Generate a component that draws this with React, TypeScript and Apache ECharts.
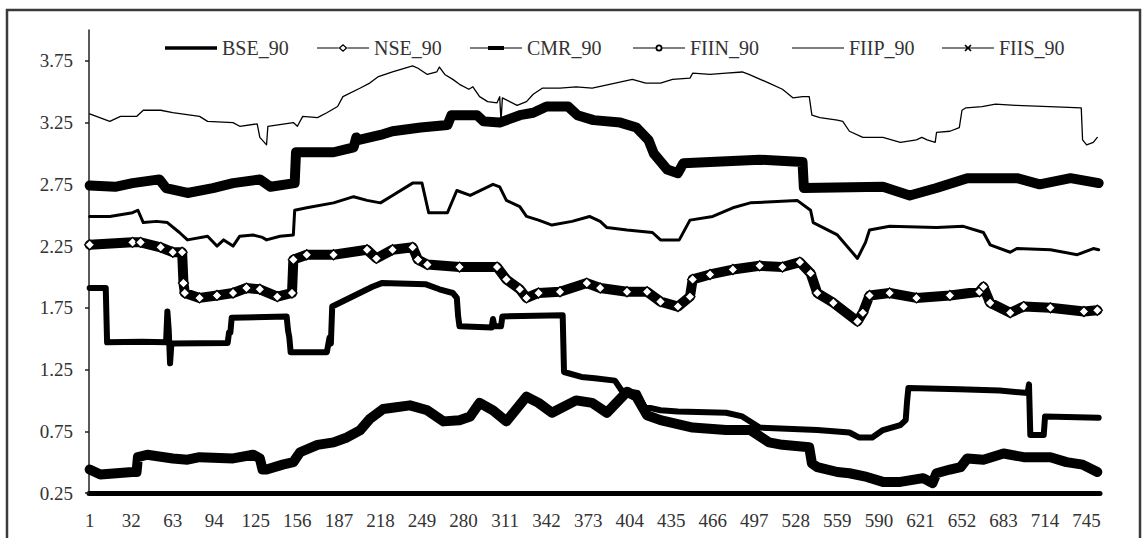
import React, { useEffect, useRef } from "react";
import * as echarts from "echarts";

const X_TICKS = [1, 32, 63, 94, 125, 156, 187, 218, 249, 280, 311, 342, 373, 404, 435, 466, 497, 528, 559, 590, 621, 652, 683, 714, 745];
const Y_TICKS = [0.25, 0.75, 1.25, 1.75, 2.25, 2.75, 3.25, 3.75];

const BSE_90: [number, number][] = [
  [1, 2.49], [16, 2.49], [33, 2.52], [37, 2.54], [41, 2.44], [51, 2.45], [59, 2.44], [68, 2.36], [74, 2.3], [89, 2.33],
  [96, 2.25], [101, 2.3], [108, 2.25], [113, 2.33], [123, 2.34], [130, 2.32], [133, 2.3], [143, 2.33], [153, 2.34], [154, 2.54],
  [163, 2.56], [183, 2.6], [198, 2.65], [208, 2.62], [218, 2.6], [227, 2.66], [242, 2.76], [249, 2.76], [254, 2.52], [268, 2.52],
  [275, 2.7], [285, 2.66], [302, 2.75], [307, 2.73], [312, 2.62], [322, 2.57], [327, 2.49], [336, 2.46], [346, 2.42], [361, 2.45],
  [374, 2.49], [382, 2.45], [387, 2.4], [402, 2.38], [421, 2.36], [427, 2.3], [441, 2.3], [449, 2.46], [466, 2.49], [481, 2.56],
  [494, 2.6], [529, 2.62], [539, 2.54], [541, 2.44], [559, 2.34], [574, 2.15], [580, 2.28], [583, 2.38], [598, 2.41], [633, 2.4],
  [653, 2.41], [668, 2.36], [673, 2.26], [688, 2.2], [693, 2.23], [718, 2.22], [738, 2.18], [750, 2.23], [754, 2.22],
];

const NSE_90: [number, number][] = [
  [1, 2.26], [33, 2.28], [39, 2.28], [54, 2.24], [63, 2.2], [70, 2.2], [71, 1.95], [72, 1.87], [83, 1.83], [96, 1.85],
  [108, 1.87], [118, 1.91], [128, 1.9], [141, 1.84], [152, 1.87], [153, 2.14], [163, 2.18], [183, 2.18], [208, 2.22], [215, 2.15],
  [227, 2.22], [242, 2.24], [246, 2.14], [253, 2.1], [277, 2.08], [305, 2.08], [312, 1.98], [322, 1.9], [327, 1.83], [336, 1.87],
  [352, 1.88], [372, 1.95], [382, 1.91], [402, 1.88], [417, 1.88], [427, 1.8], [440, 1.76], [449, 1.84], [451, 1.98], [464, 2.02],
  [481, 2.06], [501, 2.09], [518, 2.08], [531, 2.12], [539, 2.03], [544, 1.87], [556, 1.79], [574, 1.64], [578, 1.71], [583, 1.85],
  [598, 1.87], [618, 1.83], [643, 1.85], [665, 1.88], [668, 1.92], [673, 1.79], [688, 1.71], [698, 1.76], [718, 1.75], [743, 1.72],
  [753, 1.73],
];

const CMR_90: [number, number][] = [
  [1, 1.91], [13, 1.91], [14, 1.47], [40, 1.475], [58, 1.47], [59, 1.72], [60, 1.57], [61, 1.3], [62, 1.46], [104, 1.465],
  [105, 1.55], [106, 1.55], [107, 1.67], [148, 1.68], [149, 1.57], [150, 1.51], [151, 1.39], [178, 1.39], [180, 1.51], [181, 1.46],
  [182, 1.76], [212, 1.92], [219, 1.95], [252, 1.94], [262, 1.9], [272, 1.87], [275, 1.83], [276, 1.68], [277, 1.6], [301, 1.59],
  [302, 1.66], [303, 1.6], [308, 1.6], [309, 1.68], [354, 1.69], [355, 1.23], [368, 1.19], [378, 1.18], [393, 1.16], [398, 1.08],
  [410, 1.06], [415, 0.95], [427, 0.92], [440, 0.91], [476, 0.9], [488, 0.87], [501, 0.78], [544, 0.76], [568, 0.74], [575, 0.7],
  [585, 0.7], [593, 0.76], [606, 0.8], [610, 0.84], [611, 0.99], [612, 1.1], [650, 1.09], [680, 1.08], [701, 1.06], [702, 1.13],
  [703, 0.72], [713, 0.72], [714, 0.87], [754, 0.86],
];

const FIIN_90: [number, number][] = [
  [1, 0.44], [9, 0.4], [33, 0.42], [36, 0.42], [37, 0.54], [44, 0.56], [63, 0.53], [74, 0.52], [83, 0.54], [108, 0.53],
  [123, 0.56], [128, 0.53], [130, 0.44], [133, 0.44], [145, 0.48], [153, 0.5], [158, 0.58], [171, 0.64], [183, 0.66], [193, 0.7],
  [203, 0.76], [210, 0.85], [220, 0.93], [227, 0.94], [240, 0.96], [253, 0.92], [265, 0.83], [277, 0.84], [285, 0.87], [292, 0.98],
  [302, 0.92], [312, 0.83], [327, 1.03], [336, 0.98], [346, 0.9], [364, 1.0], [376, 0.98], [387, 0.9], [402, 1.07], [409, 1.03],
  [417, 0.88], [427, 0.84], [451, 0.78], [476, 0.76], [494, 0.76], [508, 0.66], [518, 0.64], [538, 0.62], [540, 0.49], [544, 0.46],
  [559, 0.42], [568, 0.41], [581, 0.38], [593, 0.34], [606, 0.34], [623, 0.37], [630, 0.33], [633, 0.41], [643, 0.44], [651, 0.46],
  [656, 0.53], [668, 0.52], [683, 0.57], [698, 0.54], [718, 0.54], [730, 0.5], [742, 0.48], [753, 0.42],
];

const FIIP_90: [number, number][] = [
  [1, 3.32], [16, 3.26], [24, 3.3], [36, 3.3], [41, 3.35], [54, 3.35], [63, 3.33], [83, 3.3], [89, 3.26], [108, 3.25],
  [113, 3.22], [126, 3.24], [128, 3.13], [133, 3.07], [134, 3.22], [153, 3.25], [156, 3.22], [160, 3.3], [171, 3.29], [178, 3.33],
  [186, 3.38], [190, 3.46], [203, 3.53], [210, 3.57], [216, 3.62], [227, 3.66], [242, 3.71], [246, 3.69], [253, 3.64], [260, 3.66],
  [262, 3.7], [266, 3.64], [272, 3.6], [277, 3.56], [284, 3.52], [287, 3.54], [292, 3.46], [298, 3.42], [305, 3.41], [307, 3.46],
  [308, 3.26], [309, 3.45], [320, 3.39], [327, 3.42], [332, 3.48], [339, 3.53], [352, 3.53], [364, 3.54], [376, 3.53], [389, 3.56],
  [406, 3.6], [416, 3.57], [427, 3.57], [436, 3.6], [449, 3.61], [451, 3.65], [464, 3.64], [476, 3.65], [488, 3.66], [493, 3.64],
  [508, 3.57], [518, 3.52], [526, 3.45], [533, 3.46], [538, 3.46], [540, 3.31], [546, 3.29], [559, 3.27], [563, 3.26], [568, 3.18],
  [578, 3.13], [593, 3.13], [606, 3.09], [618, 3.11], [622, 3.13], [626, 3.11], [632, 3.09], [633, 3.17], [643, 3.18], [650, 3.21],
  [652, 3.35], [655, 3.37], [667, 3.38], [677, 3.4], [692, 3.39], [717, 3.38], [741, 3.37], [742, 3.11], [745, 3.07], [750, 3.09],
  [753, 3.13],
];

const FIIS_90: [number, number][] = [
  [1, 2.74], [20, 2.73], [33, 2.76], [53, 2.79], [58, 2.72], [74, 2.68], [93, 2.72], [108, 2.76], [128, 2.79], [136, 2.73],
  [154, 2.76], [155, 3.01], [183, 3.01], [198, 3.05], [200, 3.13], [202, 3.11], [218, 3.15], [227, 3.18], [248, 3.21], [268, 3.23],
  [271, 3.31], [290, 3.31], [295, 3.26], [307, 3.25], [322, 3.31], [332, 3.33], [342, 3.38], [358, 3.38], [365, 3.31], [377, 3.27],
  [397, 3.25], [409, 3.21], [418, 3.11], [422, 3.0], [432, 2.87], [440, 2.84], [444, 2.92], [464, 2.93], [501, 2.95], [533, 2.93],
  [534, 2.72], [593, 2.73], [613, 2.66], [633, 2.72], [656, 2.8], [693, 2.8], [710, 2.75], [733, 2.8], [754, 2.76],
];

const SERIES_NAMES = ["BSE_90", "NSE_90", "CMR_90", "FIIN_90", "FIIP_90", "FIIS_90"];

const FONT = "'Liberation Serif', 'Times New Roman', serif";

const ICONS: Record<string, string> = {
  BSE_90: "path://M0,0H52V3.5H0Z",
  NSE_90:
    "path://M0,3.4H21.5V4.6H0Z M30.5,3.4H52V4.6H30.5Z M26,0L30.5,4L26,8L21.5,4Z M26,1.7L23.4,4L26,6.3L28.6,4Z",
  CMR_90: "path://M0,1.4H52V2.6H0Z M18,0H34V4H18Z",
  FIIN_90:
    "path://M0,2.9H22.5V4.1H0Z M29.5,2.9H52V4.1H29.5Z M22.5,3.5A3.5,3.5 0 1,0 29.5,3.5A3.5,3.5 0 1,0 22.5,3.5Z M24.3,3.5A1.7,1.7 0 1,1 27.7,3.5A1.7,1.7 0 1,1 24.3,3.5Z",
  FIIP_90: "path://M0,0H52V1.2H0Z",
  FIIS_90:
    "path://M0,3.4H52V4.6H0Z M22.4,1.6L23.6,0.4L29.6,6.4L28.4,7.6Z M28.4,0.4L29.6,1.6L23.6,7.6L22.4,6.4Z",
};

// left edge of each legend entry
const LEGEND_LEFT: Record<string, number> = {
  BSE_90: 165,
  NSE_90: 317,
  CMR_90: 470,
  FIIN_90: 633,
  FIIP_90: 792,
  FIIS_90: 942,
};

export default function App() {
  const ref = useRef<HTMLDivElement>(null);

  useEffect(() => {
    if (!ref.current) return;
    const chart = echarts.init(ref.current, undefined, { renderer: "svg" });

    const line = (name: string, data: [number, number][], width: number, extra: any = {}) => ({
      type: "line",
      name,
      data,
      symbol: "none",
      showSymbol: false,
      silent: true,
      lineStyle: { color: "#000", width, join: "round", cap: "round" },
      itemStyle: { color: "#000" },
      ...extra,
    });

    chart.setOption({
      animation: false,
      backgroundColor: "#fff",
      graphic: [
        {
          type: "rect",
          shape: { x: 7, y: 10, width: 1133, height: 600 },
          style: { fill: "none", stroke: "#3a3a3a", lineWidth: 2.5 },
          silent: true,
        },
      ],
      legend: SERIES_NAMES.map((n) => ({
        left: LEGEND_LEFT[n],
        top: 38,
        padding: 0,
        itemWidth: 52,
        itemHeight: 14,
        selectedMode: false,
        textStyle: { fontFamily: FONT, fontSize: 20, color: "#333" },
        data: [{ name: n, icon: ICONS[n], itemStyle: { color: "#000", borderWidth: 0 } }],
      })),
      grid: { left: 89, right: 44, top: 30, bottom: 45, containLabel: false },
      xAxis: {
        type: "value",
        min: 0.5,
        max: 755,
        splitLine: { show: false },
        axisLine: { show: true, lineStyle: { color: "#000", width: 5 } },
        axisTick: { show: false },
        axisLabel: {
          customValues: X_TICKS,
          margin: 18,
          fontFamily: FONT,
          fontSize: 19,
          color: "#333",
        },
      },
      yAxis: {
        type: "value",
        min: 0.25,
        max: 4.0,
        splitLine: { show: false },
        axisLine: { show: true, lineStyle: { color: "#222", width: 1.5 } },
        axisTick: { show: true, customValues: Y_TICKS, length: 4, lineStyle: { color: "#222", width: 1.5 } },
        axisLabel: {
          customValues: Y_TICKS,
          formatter: (v: number) => v.toFixed(2),
          margin: 16,
          fontFamily: FONT,
          fontSize: 19,
          color: "#333",
        },
      },
      series: [
        line("FIIP_90", FIIP_90, 1.3),
        line("FIIS_90", FIIS_90, 10),
        line("BSE_90", BSE_90, 3),
        line("NSE_90", NSE_90, 10, {
          symbol: "diamond",
          showSymbol: true,
          symbolSize: 10,
          itemStyle: { color: "#fff", borderColor: "#000", borderWidth: 1.3 },
        }),
        line("CMR_90", CMR_90, 6),
        line("FIIN_90", FIIN_90, 10),
      ],
    });

    return () => chart.dispose();
  }, []);

  return (
    <div
      ref={ref}
      style={{ position: "fixed", left: 0, top: 0, width: 1144, height: 538, background: "#fff" }}
    />
  );
}
